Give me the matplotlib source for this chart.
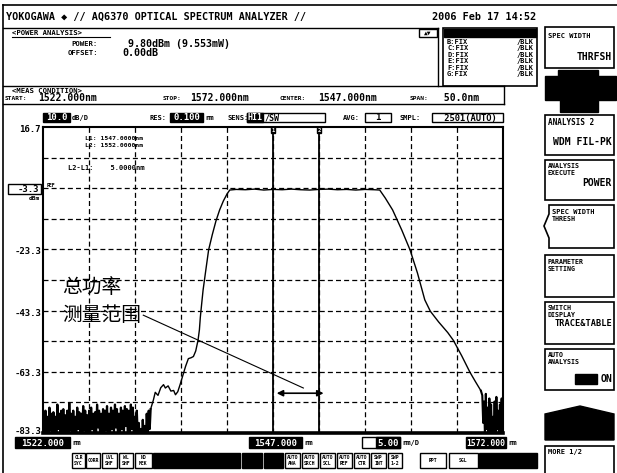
import numpy as np
import matplotlib
matplotlib.use('Agg')
import matplotlib.pyplot as plt
from matplotlib.patches import Rectangle, Polygon
from matplotlib.lines import Line2D

# ---------------- data ----------------
x_start, x_stop = 1522.0, 1572.0
y_top, y_bottom = 16.7, -83.3
y_tick_vals = [16.7, -3.3, -23.3, -43.3, -63.3, -83.3]
y_tick_labels = ["16.7", "-3.3", "-23.3", "-43.3", "-63.3", "-83.3"]
marker_l1, marker_l2 = 1547.0, 1552.0

# noise floor, left side (peaks / troughs)
noise_left_peaks = [-77, -76, -78, -75, -77, -76.5, -78, -74, -77, -76, -75.5, -77.5,
                    -76, -73.5, -77, -76, -78, -75, -76.5, -77, -74.5, -76, -77.5, -76,
                    -75, -77, -76.5, -74, -76, -77, -75.5, -76, -74.5, -77, -75, -76,
                    -74, -75.5, -77, -75, -76, -74.5, -75.5, -76, -74, -75, -78, -76,
                    -80, -82, -79, -81, -77, -76]
noise_left_troughs = [-84, -83, -85, -82.5, -84, -83.5, -85, -82, -84, -83, -84.5, -83,
                      -85, -82.5, -84, -83, -85, -82, -83.5, -84, -82.5, -84, -85, -83,
                      -82, -84, -83.5, -81.5, -84, -85, -83, -82.5, -84, -85, -82, -83,
                      -81.5, -84, -85, -82, -83, -81, -84, -85, -82, -84, -86, -85,
                      -86, -86, -85, -86, -84, -82]

# main filter curve
main_wl = [1533.7, 1534.0, 1534.2, 1534.5, 1534.8, 1535.1, 1535.3, 1535.6, 1535.9, 1536.2,
           1536.4, 1536.65, 1536.9, 1537.2, 1537.5, 1537.8, 1538.1, 1538.35, 1538.6, 1538.85,
           1539.0, 1539.1, 1539.25, 1539.4, 1539.7, 1540.0, 1540.4, 1540.8, 1541.2, 1541.6,
           1542.0, 1542.3, 1543.0, 1544.0, 1545.0, 1546.0, 1547.0, 1548.0, 1549.0, 1550.0,
           1551.0, 1552.0, 1553.0, 1554.0, 1555.0, 1556.0, 1557.0, 1558.0, 1558.6, 1559.2,
           1560.0, 1561.0, 1561.9, 1562.7, 1563.5, 1564.1, 1565.0, 1566.0, 1566.6, 1567.5,
           1568.4, 1569.0, 1569.6]
main_db = [-75.5, -72.5, -70.0, -71.0, -68.5, -67.5, -68.6, -67.9, -69.6, -69.4,
           -70.8, -69.8, -67.5, -64.5, -61.5, -59.0, -58.7, -58.3, -56.5, -53.0,
           -49.6, -45.5, -41.0, -36.6, -30.0, -23.5, -18.5, -14.0, -10.4, -7.5,
           -5.2, -3.9, -3.7, -3.8, -3.6, -3.9, -3.7, -3.8, -3.6, -3.8,
           -3.9, -3.7, -3.6, -3.8, -3.7, -3.9, -3.7, -3.8, -3.9, -6.5,
           -10.4, -17.0, -23.5, -31.0, -39.8, -43.5, -47.0, -50.5, -53.0, -58.0,
           -63.4, -66.5, -69.5]

# noise floor, right side
noise_right_peaks = [-71, -73, -70.5, -75, -72, -74, -78, -73, -71.5, -76, -74, -72]
noise_right_troughs = [-80, -84, -82, -85, -83, -85, -84, -86, -82, -85, -84, -86]

# annotation
label_cn_1 = "总功率"
label_cn_2 = "测量范围"

# ---------------- figure ----------------
W, H = 617, 473
fig = plt.figure(figsize=(W / 100, H / 100), dpi=100)
fig.patch.set_facecolor('white')
MONO = 'DejaVu Sans Mono'


def fx(x):
    return x / W


def fy(y):
    return 1 - y / H


def t(x, y, s, size=6, ha='left', va='center', color='black', weight='bold'):
    fig.text(fx(x), fy(y), s, fontsize=size, ha=ha, va=va, color=color,
             fontweight=weight, family=MONO)


def rect(x0, y0, x1, y1, fc='none', ec='black', lw=1.0):
    fig.add_artist(Rectangle((fx(x0), fy(y1)), fx(x1) - fx(x0), fy(y0) - fy(y1),
                             transform=fig.transFigure, fc=fc, ec=ec, lw=lw))


def poly(pts, fc='black', ec='black', lw=1.0):
    fig.add_artist(Polygon([(fx(a), fy(b)) for a, b in pts], closed=True,
                           transform=fig.transFigure, fc=fc, ec=ec, lw=lw))


def line(x0, y0, x1, y1, lw=1.0):
    fig.add_artist(Line2D([fx(x0), fx(x1)], [fy(y0), fy(y1)], transform=fig.transFigure,
                          color='black', lw=lw))


def boxtext(x0, y0, x1, y1, s, size=6.5, inv=True):
    rect(x0, y0, x1, y1, fc='black' if inv else 'white', ec='black', lw=1.0)
    t((x0 + x1) / 2, (y0 + y1) / 2 + 0.5, s, size=size, ha='center',
      color='white' if inv else 'black')


# outer frame
line(3, 5, 617, 5, lw=1.2)
line(3, 5, 3, 473, lw=1.2)

# header
t(6, 17, "YOKOGAWA \u25c6 // AQ6370 OPTICAL SPECTRUM ANALYZER //", size=7.3)
t(432, 17, "2006 Feb 17 14:52", size=7.3)

# power analysis box
line(3, 28, 438, 28)
line(438, 28, 438, 86)
line(3, 86, 504, 86)
t(12, 33, "<POWER ANALYSIS>", size=5.2)
line(12, 37, 110, 37, lw=0.8)
t(98, 44, "POWER:", size=5.2, ha='right')
t(128, 44, "9.80dBm (9.553mW)", size=7.2)
t(98, 53, "OFFSET:", size=5.2, ha='right')
t(122, 53, "0.00dB", size=7.2)
rect(419, 29, 437, 37, fc='white')
t(428, 33, "\u25b2\u25bc", size=4.5, ha='center')

# trace table
rect(443, 28, 537, 86, fc='white', lw=1.2)
rect(444, 29, 536, 37, fc='black')
for i, lab in enumerate("BCDEFG"):
    yy = 42 + i * 6.4
    t(447, yy, f"{lab}:FIX", size=5)
    t(534, yy, "/BLK", size=5, ha='right')

# meas condition
t(12, 91, "<MEAS CONDITION>", size=5.2)
t(5, 98, "START:", size=4.5)
t(38, 98, "1522.000nm", size=7.0)
t(163, 98, "STOP:", size=4.5)
t(190, 98, "1572.000nm", size=7.0)
t(280, 98, "CENTER:", size=4.5)
t(318, 98, "1547.000nm", size=7.0)
t(410, 98, "SPAN:", size=4.5)
t(438, 98, " 50.0nm", size=7.0)
line(504, 86, 504, 104)
line(3, 104, 504, 104)

# settings row
boxtext(43, 113, 70, 122, "10.0", size=6.5)
t(72, 118, "dB/D", size=5)
t(150, 118, "RES:", size=5)
boxtext(170, 113, 203, 122, "0.100", size=6.5)
t(205, 118, "nm", size=5)
t(228, 118, "SENS:", size=5)
rect(247, 113, 325, 122, fc='white')
boxtext(247, 113, 263, 122, "HI1", size=6)
t(265, 118, "/SW", size=6)
t(343, 118, "AVG:", size=5)
boxtext(365, 113, 391, 122, "1", size=6.5, inv=False)
t(400, 118, "SMPL:", size=5)
boxtext(432, 113, 503, 122, " 2501(AUTO)", size=6.3, inv=False)

# ---------------- main axes ----------------
ax = fig.add_axes([fx(43), fy(433), (503 - 43) / W, (433 - 127) / H])
ax.set_xlim(x_start, x_stop)
ax.set_ylim(y_bottom, y_top)
ax.set_xticks([])
ax.set_yticks([])
for s in ['left', 'top', 'right']:
    ax.spines[s].set_linewidth(1.5)
ax.spines['bottom'].set_linewidth(2.6)

dash = (0, (4, 2.5))
for k in range(1, 10):
    ax.axvline(x_start + k * (x_stop - x_start) / 10, color='black', lw=0.9, ls=dash)
for k in range(1, 10):
    ax.axhline(y_top - k * 10, color='black', lw=0.9, ls=dash)

ax.axvline(marker_l1, color='black', lw=1.3)
ax.axvline(marker_l2, color='black', lw=1.3)

left_db = [v for pair in zip(noise_left_peaks, noise_left_troughs) for v in pair]
left_wl = np.linspace(1522.05, 1533.6, len(left_db))
right_db = [v for pair in zip(noise_right_peaks, noise_right_troughs) for v in pair]
right_wl = np.linspace(1569.75, 1571.95, len(right_db))

ax.plot(np.append(left_wl, main_wl[0]), np.append(left_db, main_db[0]),
        color='black', lw=1.6)
ax.plot(main_wl, main_db, color='black', lw=1.0)
ax.plot(np.insert(right_wl, 0, main_wl[-1]), np.insert(right_db, 0, main_db[-1]),
        color='black', lw=1.5)

# marker text inside plot
ax.text(1526.6, 12.9, "L1: 1547.0000nm", fontsize=4.6, family=MONO, fontweight='bold', va='center')
ax.text(1526.6, 10.6, "L2: 1552.0000nm", fontsize=4.6, family=MONO, fontweight='bold', va='center')
ax.text(1524.7, 3.2, "L2-L1:    5.0000nm", fontsize=5, family=MONO, fontweight='bold', va='center')
ax.text(1522.4, -3.3, "REF", fontsize=3.5, family=MONO, fontweight='bold', va='bottom')

# annotation
cn = ['Noto Sans CJK SC', 'DejaVu Sans']
ax.text(1524.1, -35.9, label_cn_1, fontsize=14.2, family=cn, va='center', ha='left')
ax.text(1524.1, -44.8, label_cn_2, fontsize=14.2, family=cn, va='center', ha='left')
ax.plot([1532.9, 1550.3], [-44.8, -68.6], color='black', lw=0.8)
ax.annotate('', xy=(1547.4, -70.3), xytext=(1552.5, -70.3),
            arrowprops=dict(arrowstyle='<|-|>', color='black', lw=1.2,
                            mutation_scale=9, shrinkA=0, shrinkB=0))

# top marker flags
for mk, lab in [(marker_l1, "1"), (marker_l2, "2")]:
    ax.text(mk, y_top - 0.3, lab, fontsize=4, family=MONO, fontweight='bold', ha='center',
            va='top', color='white',
            bbox=dict(boxstyle='square,pad=0.1', fc='black', ec='black'))

# y labels
ylab_pos = [130, 189, 251, 313, 373, 431]
for val, lab, yp in zip(y_tick_vals, y_tick_labels, ylab_pos):
    if lab == "-3.3":
        rect(8, 184, 41, 194, fc='white')
        t(39, 189.5, lab, size=6.5, ha='right')
        t(40, 198, "dBm", size=4.5, ha='right')
    else:
        t(41, yp, lab, size=6.5, ha='right')

# x labels
boxtext(15, 437, 70, 448, "1522.000", size=6.5)
t(72, 443, "nm", size=5)
boxtext(249, 437, 302, 448, "1547.000", size=6.5)
t(304, 443, "nm", size=5)
rect(362, 437, 400, 448, fc='white')
boxtext(376, 437, 400, 448, "5.00", size=6.5)
t(402, 443, "nm/D", size=5)
boxtext(466, 437, 506, 448, "1572.000", size=5.8)
t(508, 443, "nm", size=5)

# bottom button row
buttons = [(72, 85, "CLR\nSYC"), (86, 100, "CORR"), (102, 117, "LVL\nSHF"),
           (119, 133, "WL\nSHF"), (135, 152, "NO\nMEK"), (285, 300, "AUTO\nANA"),
           (302, 318, "AUTO\nSRCH"), (320, 335, "AUTO\nSCL"), (337, 352, "AUTO\nREF"),
           (354, 369, "AUTO\nCTR"), (371, 386, "SWP\nINT"), (388, 402, "SWP\n1-2"),
           (420, 446, "RPT"), (449, 478, "SGL")]
for x0, x1, lab in buttons:
    rect(x0, 453, x1, 468, fc='white')
    t((x0 + x1) / 2, 460.5, lab, size=3.4, ha='center')
rect(153, 453, 240, 468, fc='black')
rect(242, 453, 262, 468, fc='black')
rect(264, 453, 283, 468, fc='black')
rect(479, 453, 537, 468, fc='black')

# right soft keys
rect(545, 27, 614, 68, fc='white', lw=1.2)
t(548, 36, "SPEC WIDTH", size=5)
t(612, 57, "THRFSH", size=7, ha='right')
poly([(558, 70), (598, 70), (598, 76), (616, 76), (616, 100), (598, 100), (598, 112),
      (560, 112), (560, 100), (545, 100), (545, 76), (558, 76)])

rect(545, 115, 614, 155, fc='white', lw=1.2)
t(548, 122, "ANALYSIS 2", size=5.5)
t(612, 142, "WDM FIL-PK", size=7, ha='right')

rect(545, 160, 614, 200, fc='white', lw=1.2)
t(548, 166, "ANALYSIS", size=4.8)
t(548, 173, "EXECUTE", size=4.8)
t(612, 183, "POWER", size=7, ha='right')

poly([(549, 205), (614, 205), (614, 248), (549, 248), (549, 238), (544, 226), (549, 214)],
     fc='white', lw=1.2)
t(552, 212, "SPEC WIDTH", size=5)
t(552, 219, "THRESH", size=4.8)

rect(545, 255, 614, 297, fc='white', lw=1.2)
t(548, 262, "PARAMETER", size=4.8)
t(548, 269, "SETTING", size=4.8)

rect(545, 302, 614, 344, fc='white', lw=1.2)
t(548, 308, "SWITCH", size=4.8)
t(548, 315, "DISPLAY", size=4.8)
t(612, 324, "TRACE&TABLE", size=6.2, ha='right')

rect(545, 349, 614, 390, fc='white', lw=1.2)
t(548, 355, "AUTO", size=4.8)
t(548, 362, "ANALYSIS", size=4.8)
rect(575, 374, 597, 384, fc='black')
t(612, 379, "ON", size=7, ha='right')

poly([(545, 440), (545, 414), (580, 406), (614, 414), (614, 440)])

rect(545, 446, 614, 480, fc='white', lw=1.2)
t(548, 452, "MORE 1/2", size=5)

fig.savefig('out.png', dpi=100, facecolor='white')
